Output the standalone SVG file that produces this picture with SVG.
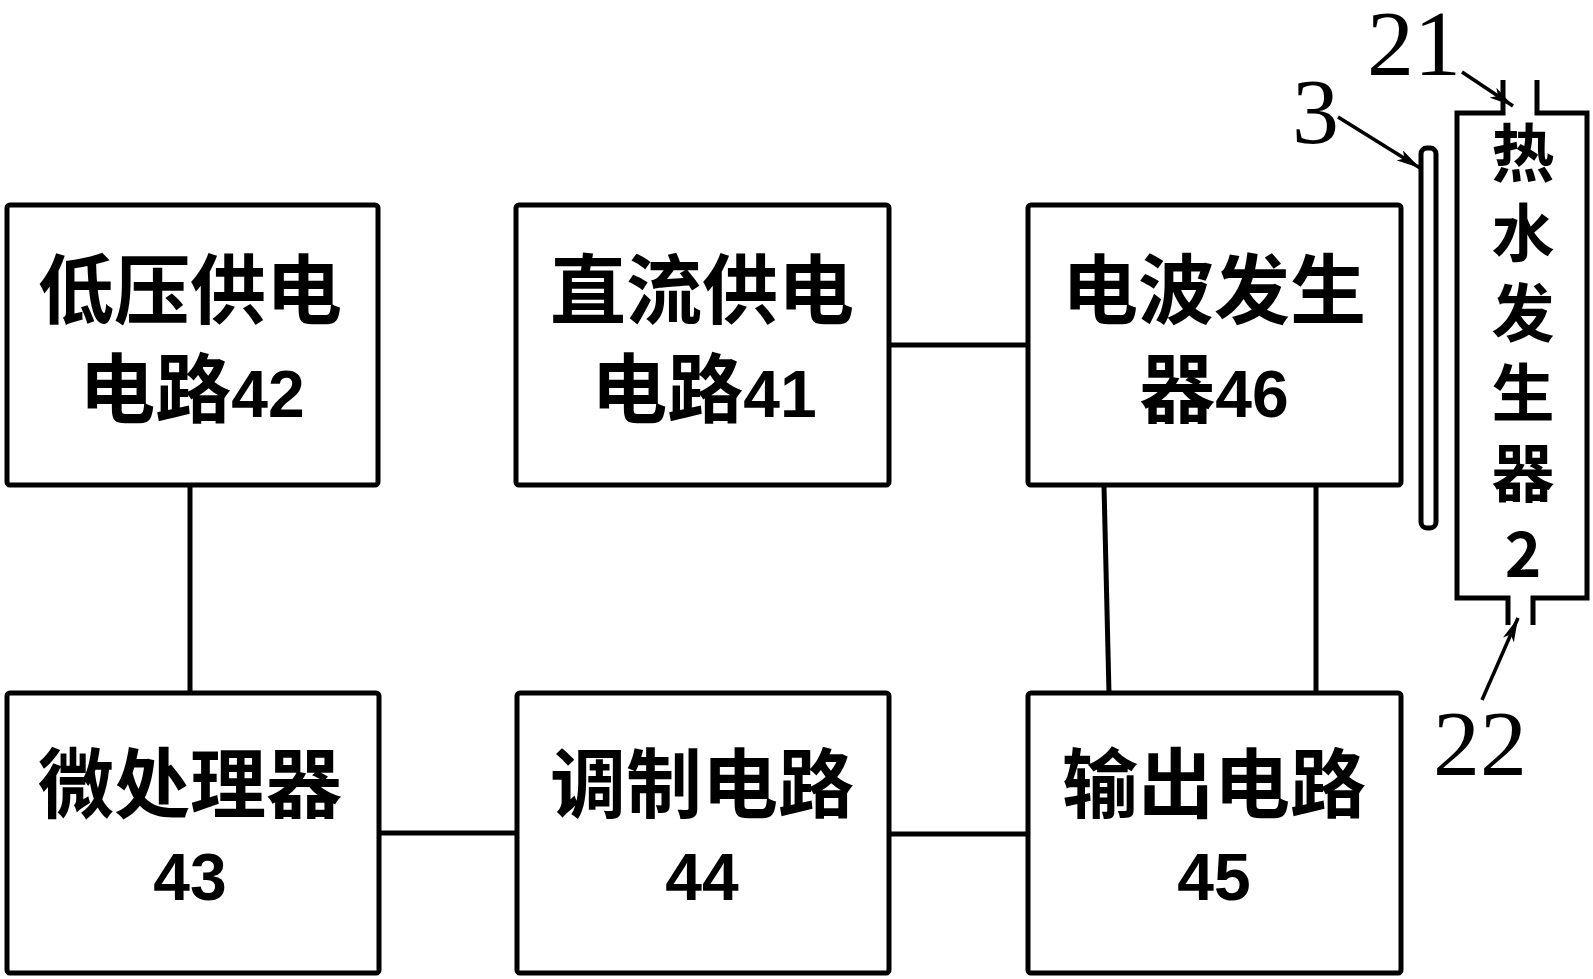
<svg xmlns="http://www.w3.org/2000/svg" width="1593" height="979" viewBox="0 0 1593 979">
<defs>
<style>
.box{fill:#fff;stroke:#000;stroke-width:5}
.ln{fill:none;stroke:#000;stroke-width:5}
.thin{fill:none;stroke:#000;stroke-width:3.5}
.cj{font-family:"Noto Sans CJK SC","Noto Sans CJK JP",sans-serif;font-weight:600;font-size:76px;text-anchor:middle;fill:#000}
.num{font-family:"Liberation Sans",Arial,sans-serif;font-weight:bold;font-size:66px}
.vc{font-family:"Noto Sans CJK SC",sans-serif;font-weight:600;font-size:63px;fill:#000}
.lab{font-family:"Liberation Serif","Times New Roman",serif;font-size:94px;fill:#000}
</style>
<marker id="ah" viewBox="0 0 24 12" refX="24" refY="6" markerWidth="24" markerHeight="12" markerUnits="userSpaceOnUse" orient="auto">
<path d="M0,0 L24,6 L0,12 L6,6 Z" fill="#000"/>
</marker>
</defs>
<rect width="1593" height="979" fill="#fff"/>
<g id="connectors">
<line class="ln" x1="190" y1="486" x2="190" y2="693"/>
<line class="ln" x1="379" y1="833" x2="517" y2="833"/>
<line class="ln" x1="889" y1="834" x2="1028" y2="834"/>
<line class="ln" x1="889" y1="345" x2="1028" y2="345"/>
<line class="ln" x1="1104" y1="486" x2="1109" y2="693"/>
<line class="ln" x1="1316" y1="486" x2="1316" y2="693"/>
</g>
<g id="n42">
<rect class="box" x="7" y="205" width="371" height="280" rx="3"/>
<text class="cj"><tspan x="190" y="318">低压供电</tspan><tspan x="192" y="417">电路<tspan class="num">42</tspan></tspan></text>
</g>
<g id="n41">
<rect class="box" x="516" y="205" width="373" height="280" rx="3"/>
<text class="cj"><tspan x="702" y="318">直流供电</tspan><tspan x="704" y="417">电路<tspan class="num">41</tspan></tspan></text>
</g>
<g id="n46">
<rect class="box" x="1028" y="205" width="373" height="280" rx="3"/>
<text class="cj"><tspan x="1214" y="318">电波发生</tspan><tspan x="1214" y="417">器<tspan class="num">46</tspan></tspan></text>
</g>
<g id="n43">
<rect class="box" x="7" y="693" width="372" height="280" rx="3"/>
<text class="cj"><tspan x="190" y="812">微处理器</tspan><tspan class="num" x="190" y="900">43</tspan></text>
</g>
<g id="n44">
<rect class="box" x="517" y="693" width="372" height="280" rx="3"/>
<text class="cj"><tspan x="702" y="812">调制电路</tspan><tspan class="num" x="702" y="900">44</tspan></text>
</g>
<g id="n45">
<rect class="box" x="1028" y="693" width="373" height="280" rx="3"/>
<text class="cj"><tspan x="1214" y="812">输出电路</tspan><tspan class="num" x="1214" y="900">45</tspan></text>
</g>
<g id="n3">
<rect class="box" x="1421" y="148" width="15" height="380" rx="6"/>
<text class="lab" x="1292" y="143">3</text>
<line class="thin" x1="1338" y1="117" x2="1420" y2="168" marker-end="url(#ah)"/>
</g>
<g id="n2">
<path class="ln" d="M1503,80 V113 H1457 V598 H1508 V625 M1533,625 V598 H1587 V113 H1537 V80"/>
<text class="vc" x="1523" y="121" style="writing-mode:vertical-rl;letter-spacing:17px">热水发生器</text>
<text class="vc num" x="1523" y="577" style="font-size:62px;text-anchor:middle">2</text>
</g>
<g id="n21">
<text class="lab" x="1367" y="75">21</text>
<line class="thin" x1="1462" y1="72" x2="1513" y2="106" marker-end="url(#ah)"/>
</g>
<g id="n22">
<text class="lab" x="1433" y="775">22</text>
<line class="thin" x1="1482" y1="700" x2="1518" y2="618" marker-end="url(#ah)"/>
</g>
</svg>
